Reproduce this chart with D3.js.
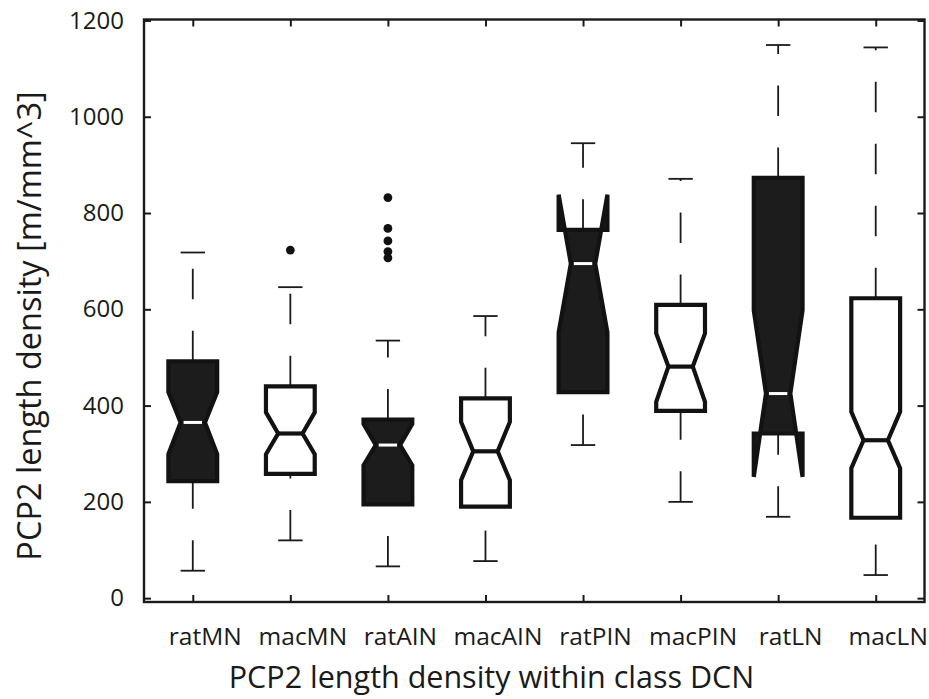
<!DOCTYPE html>
<html>
<head>
<meta charset="utf-8">
<script src="https://cdn.jsdelivr.net/npm/d3@7"></script>
<style>
  html, body { margin: 0; padding: 0; background: #fff; }
  svg { display: block; }
  text { font-family: "Open Sans", "Noto Sans", sans-serif; fill: #1a1a1a; }
</style>
</head>
<body>
<svg id="chart" width="929" height="699"></svg>
<script>
// ---- data ----
const categories = ["ratMN", "macMN", "ratAIN", "macAIN", "ratPIN", "macPIN", "ratLN", "macLN"];
const filled     = [true, false, true, false, true, false, true, false];
const q1         = [243, 258, 195, 190, 428, 389, 342, 167];
const q3         = [492, 440, 371, 415, 765, 609, 873, 623];
const medians    = [365, 342, 318, 305, 695, 481, 425, 328];
const notchLo    = [299, 299, 276, 245, 552, 408, 252, 270];
const notchHi    = [428, 386, 362, 366, 838, 550, 598, 387];
const whiskerLo  = [57, 120, 66, 77, 318, 200, 169, 48];
const whiskerHi  = [718, 646, 535, 586, 945, 871, 1149, 1144];
const outliers   = [[], [723], [832, 768, 742, 720, 707], [], [], [], [], []];
const yTicks     = [0, 200, 400, 600, 800, 1000, 1200];
const yLimits    = [-8, 1202];
const xTitle     = "PCP2 length density within class DCN";
const yTitle     = "PCP2 length density [m/mm^3]";

(function () {
// ---- layout ----
const svg = d3.select("#chart");
const mLeft = 144, mRight = 924.5, mTop = 19.5, mBottom = 602;
const x = d3.scaleLinear().domain([0.5, categories.length + 0.5]).range([mLeft, mRight]);
const y = d3.scaleLinear().domain(yLimits).range([mBottom, mTop]);
const idx = categories.map((_, i) => i + 1);

const boxHalf = 0.25, notchHalf = 0.125, capHalf = 0.125;
const ink = "#1a1a1a";

// axes (ticks inward)
const gL = svg.append("g").attr("transform", `translate(${mLeft},0)`)
  .call(d3.axisLeft(y).tickValues(yTicks).tickSize(-7).tickSizeOuter(0).tickPadding(20)
        .tickFormat(d => String(d)));
const gR = svg.append("g").attr("transform", `translate(${mRight},0)`)
  .call(d3.axisRight(y).tickValues(yTicks).tickSize(-7).tickSizeOuter(0).tickFormat(""));
const gB = svg.append("g").attr("transform", `translate(0,${mBottom})`)
  .call(d3.axisBottom(x).tickValues(idx).tickSize(-7).tickSizeOuter(0).tickPadding(26)
        .tickFormat(d => categories[d - 1]));
const gT = svg.append("g").attr("transform", `translate(0,${mTop})`)
  .call(d3.axisTop(x).tickValues(idx).tickSize(-7).tickSizeOuter(0).tickFormat(""));
[gL, gR, gB, gT].forEach(g => {
  g.select(".domain").remove();
  g.selectAll(".tick line").attr("stroke", ink).attr("stroke-width", 2);
  g.selectAll("text").attr("font-size", 24).attr("fill", ink)
    .style("font-family", '"Open Sans", "Noto Sans", sans-serif');
});
gB.selectAll("text").attr("dx", 12).attr("font-size", 24.5);

// frame
svg.append("rect")
  .attr("x", x(0.5)).attr("y", y(yLimits[1]))
  .attr("width", x(categories.length + 0.5) - x(0.5))
  .attr("height", y(yLimits[0]) - y(yLimits[1]))
  .attr("fill", "none").attr("stroke", ink).attr("stroke-width", 2.4);

// whiskers
const plot = svg.append("g");
const line = d3.line();
idx.forEach((c, i) => {
  plot.append("line")
    .attr("x1", x(c)).attr("x2", x(c))
    .attr("y1", y(q3[i])).attr("y2", y(whiskerHi[i]))
    .attr("stroke", ink).attr("stroke-width", 1.8).attr("stroke-dasharray", "30.5,31.5");
  plot.append("line")
    .attr("x1", x(c)).attr("x2", x(c))
    .attr("y1", y(whiskerLo[i])).attr("y2", y(q1[i]))
    .attr("stroke", ink).attr("stroke-width", 1.8).attr("stroke-dasharray", "30.5,31.5");
  [whiskerHi[i], whiskerLo[i]].forEach(v => {
    plot.append("line")
      .attr("x1", x(c - capHalf)).attr("x2", x(c + capHalf))
      .attr("y1", y(v)).attr("y2", y(v))
      .attr("stroke", ink).attr("stroke-width", 1.8);
  });
});

// notched boxes
idx.forEach((c, i) => {
  const L = x(c - boxHalf), R = x(c + boxHalf);
  const nl = x(c - notchHalf), nr = x(c + notchHalf);
  const pts = [
    [L, y(q1[i])], [L, y(notchLo[i])], [nl, y(medians[i])], [L, y(notchHi[i])], [L, y(q3[i])],
    [R, y(q3[i])], [R, y(notchHi[i])], [nr, y(medians[i])], [R, y(notchLo[i])], [R, y(q1[i])]
  ];
  plot.append("path")
    .attr("d", line(pts) + "Z")
    .attr("fill", filled[i] ? "#1c1c1c" : "#fff")
    .attr("stroke", "#121212").attr("stroke-width", 4.2)
    .attr("stroke-linejoin", "miter");
  plot.append("line")
    .attr("x1", filled[i] ? nl + 3 : nl).attr("x2", filled[i] ? nr - 3 : nr)
    .attr("y1", y(medians[i])).attr("y2", y(medians[i]))
    .attr("stroke", filled[i] ? "#fff" : "#121212")
    .attr("stroke-width", filled[i] ? 3 : 4.2);
});

// outliers
idx.forEach((c, i) => {
  outliers[i].forEach(v => {
    plot.append("circle").attr("cx", x(c)).attr("cy", y(v)).attr("r", 4.4).attr("fill", "#111");
  });
});

// axis titles
svg.append("text")
  .attr("x", 491.5).attr("y", 688)
  .attr("text-anchor", "middle").attr("font-size", 30.5)
  .text(xTitle);
svg.append("text")
  .attr("transform", "translate(41,326) rotate(-90)")
  .attr("text-anchor", "middle").attr("font-size", 32.5)
  .text(yTitle);
})();
</script>
</body>
</html>
